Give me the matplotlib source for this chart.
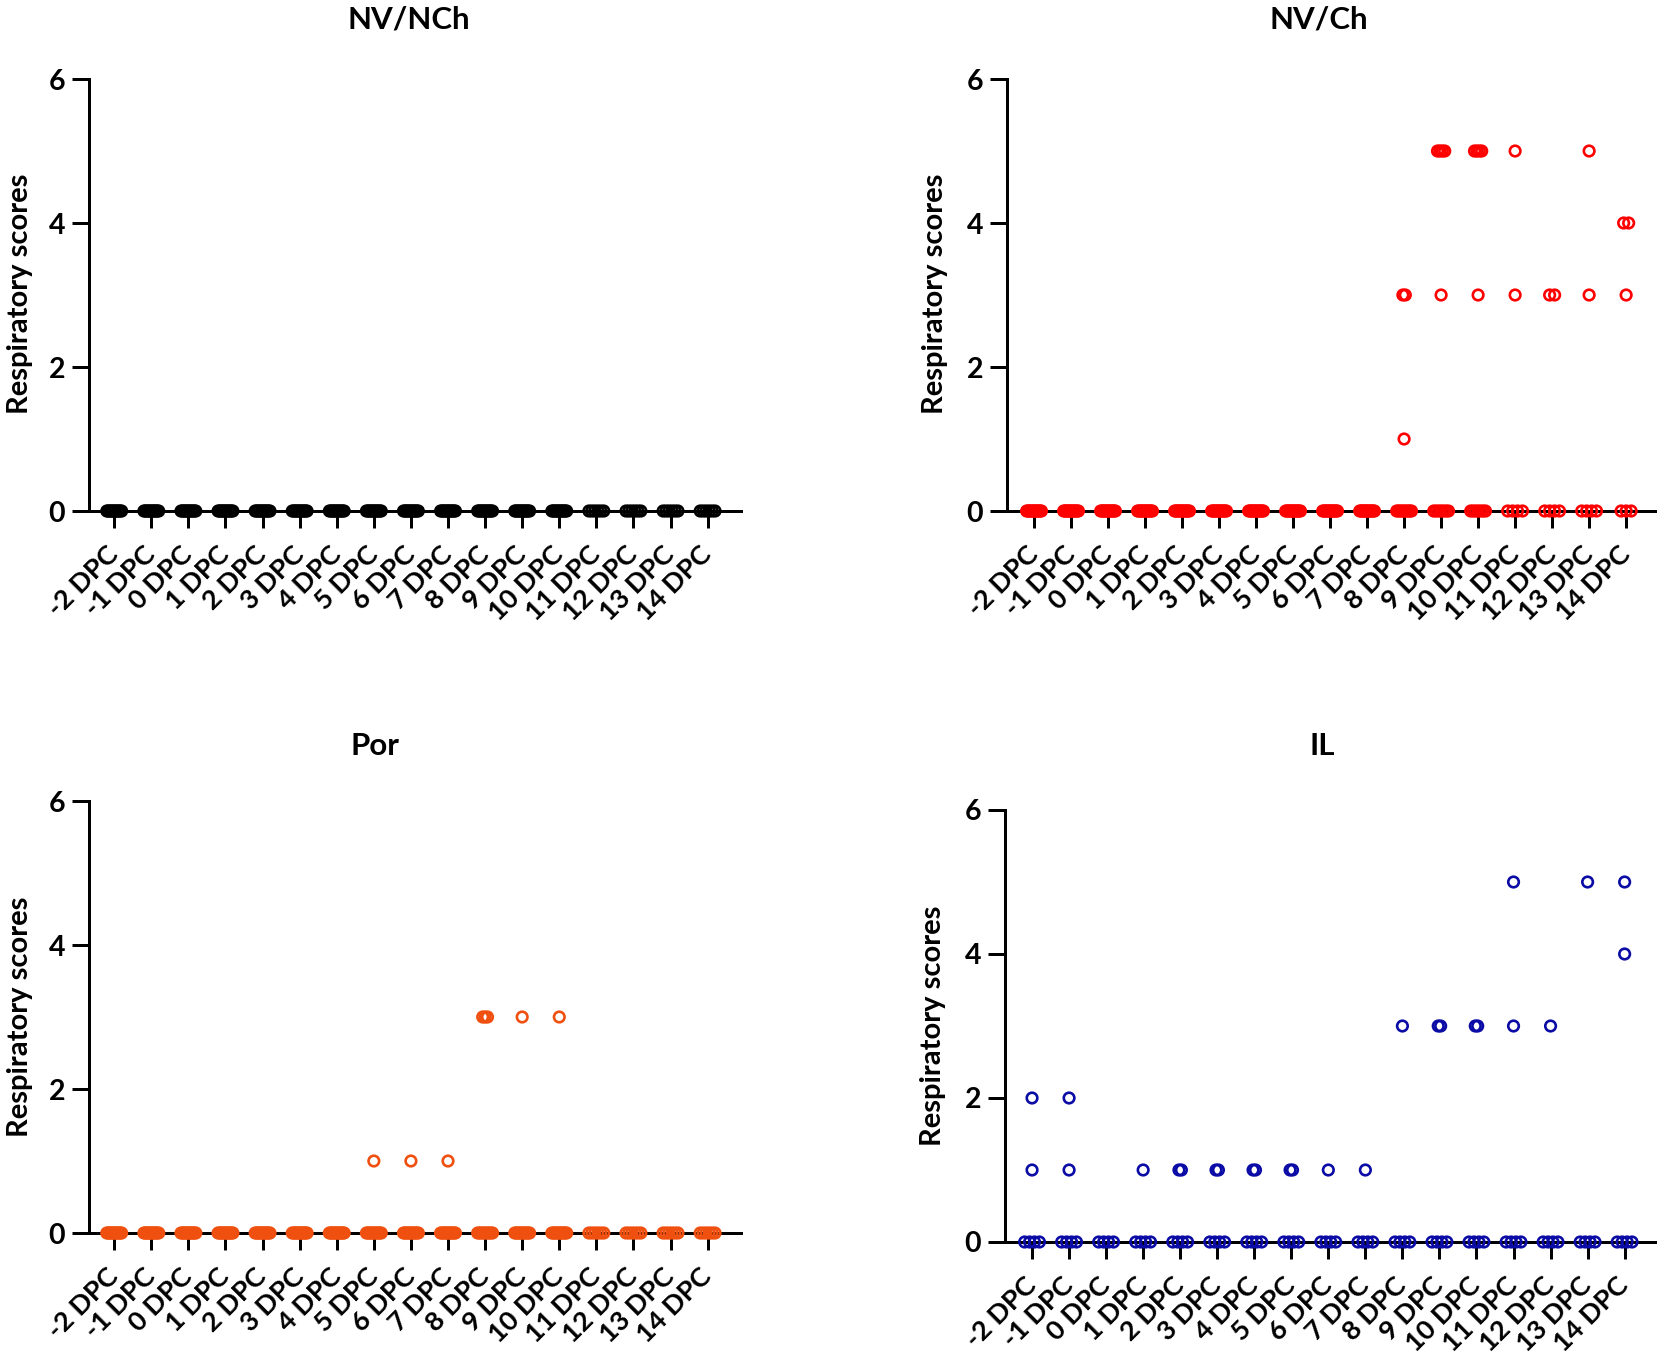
import matplotlib
matplotlib.use("Agg")
import matplotlib.pyplot as plt
import numpy as np

plt.rcParams['font.family'] = ['Lato', 'DejaVu Sans']

# ---------------- data ----------------
days = ['-2 DPC', '-1 DPC', '0 DPC', '1 DPC', '2 DPC', '3 DPC', '4 DPC', '5 DPC',
        '6 DPC', '7 DPC', '8 DPC', '9 DPC', '10 DPC', '11 DPC', '12 DPC', '13 DPC', '14 DPC']

titles = ['NV/NCh', 'NV/Ch', 'Por', 'IL']
colors = ['#000000', '#ff0000', '#f0500f', '#0b0ba6']

nv_nch_scores = [
    [0, 0, 0, 0, 0, 0, 0, 0, 0, 0, 0, 0],
    [0, 0, 0, 0, 0, 0, 0, 0, 0, 0, 0, 0],
    [0, 0, 0, 0, 0, 0, 0, 0, 0, 0, 0, 0],
    [0, 0, 0, 0, 0, 0, 0, 0, 0, 0, 0, 0],
    [0, 0, 0, 0, 0, 0, 0, 0, 0, 0, 0, 0],
    [0, 0, 0, 0, 0, 0, 0, 0, 0, 0, 0, 0],
    [0, 0, 0, 0, 0, 0, 0, 0, 0, 0, 0, 0],
    [0, 0, 0, 0, 0, 0, 0, 0, 0, 0, 0, 0],
    [0, 0, 0, 0, 0, 0, 0, 0, 0, 0, 0, 0],
    [0, 0, 0, 0, 0, 0, 0, 0, 0, 0, 0, 0],
    [0, 0, 0, 0, 0, 0, 0, 0, 0, 0, 0, 0],
    [0, 0, 0, 0, 0, 0, 0, 0, 0, 0, 0, 0],
    [0, 0, 0, 0, 0, 0, 0, 0, 0, 0, 0, 0],
    [0, 0, 0, 0, 0, 0],
    [0, 0, 0, 0, 0, 0],
    [0, 0, 0, 0, 0, 0],
    [0, 0, 0, 0, 0, 0],
]

nv_ch_scores = [
    [0, 0, 0, 0, 0, 0, 0, 0, 0, 0, 0, 0],
    [0, 0, 0, 0, 0, 0, 0, 0, 0, 0, 0, 0],
    [0, 0, 0, 0, 0, 0, 0, 0, 0, 0, 0, 0],
    [0, 0, 0, 0, 0, 0, 0, 0, 0, 0, 0, 0],
    [0, 0, 0, 0, 0, 0, 0, 0, 0, 0, 0, 0],
    [0, 0, 0, 0, 0, 0, 0, 0, 0, 0, 0, 0],
    [0, 0, 0, 0, 0, 0, 0, 0, 0, 0, 0, 0],
    [0, 0, 0, 0, 0, 0, 0, 0, 0, 0, 0, 0],
    [0, 0, 0, 0, 0, 0, 0, 0, 0, 0, 0, 0],
    [0, 0, 0, 0, 0, 0, 0, 0, 0, 0, 0, 0],
    [3, 3, 1, 0, 0, 0, 0, 0, 0, 0, 0, 0],
    [5, 5, 5, 5, 3, 0, 0, 0, 0, 0, 0, 0],
    [5, 5, 5, 5, 3, 0, 0, 0, 0, 0, 0, 0],
    [5, 3, 0, 0, 0, 0],
    [3, 3, 0, 0, 0, 0],
    [5, 3, 0, 0, 0, 0],
    [4, 4, 3, 0, 0, 0],
]

por_scores = [
    [0, 0, 0, 0, 0, 0, 0, 0, 0, 0, 0, 0],
    [0, 0, 0, 0, 0, 0, 0, 0, 0, 0, 0, 0],
    [0, 0, 0, 0, 0, 0, 0, 0, 0, 0, 0, 0],
    [0, 0, 0, 0, 0, 0, 0, 0, 0, 0, 0, 0],
    [0, 0, 0, 0, 0, 0, 0, 0, 0, 0, 0, 0],
    [0, 0, 0, 0, 0, 0, 0, 0, 0, 0, 0, 0],
    [0, 0, 0, 0, 0, 0, 0, 0, 0, 0, 0, 0],
    [1, 0, 0, 0, 0, 0, 0, 0, 0, 0, 0, 0],
    [1, 0, 0, 0, 0, 0, 0, 0, 0, 0, 0, 0],
    [1, 0, 0, 0, 0, 0, 0, 0, 0, 0, 0, 0],
    [3, 3, 3, 0, 0, 0, 0, 0, 0, 0, 0, 0],
    [3, 0, 0, 0, 0, 0, 0, 0, 0, 0, 0, 0],
    [3, 0, 0, 0, 0, 0, 0, 0, 0, 0, 0, 0],
    [0, 0, 0, 0, 0, 0],
    [0, 0, 0, 0, 0, 0],
    [0, 0, 0, 0, 0, 0],
    [0, 0, 0, 0, 0, 0],
]

il_scores = [
    [2, 1, 0, 0, 0, 0],
    [2, 1, 0, 0, 0, 0],
    [0, 0, 0, 0],
    [1, 0, 0, 0, 0],
    [1, 1, 0, 0, 0, 0],
    [1, 1, 0, 0, 0, 0],
    [1, 1, 0, 0, 0, 0],
    [1, 1, 0, 0, 0, 0],
    [1, 0, 0, 0, 0],
    [1, 0, 0, 0, 0],
    [3, 0, 0, 0, 0],
    [3, 3, 0, 0, 0, 0],
    [3, 3, 0, 0, 0, 0],
    [5, 3, 0, 0, 0, 0],
    [3, 0, 0, 0, 0],
    [5, 0, 0, 0, 0],
    [5, 4, 0, 0, 0, 0],
]

panels = [nv_nch_scores, nv_ch_scores, por_scores, il_scores]

# ---------------- layout (pixels) ----------------
W, H = 1665, 1361
fig = plt.figure(figsize=(W / 100, H / 100), dpi=100)
fig.patch.set_facecolor('white')

# (x_left, x_right, y_zero, y_six)
boxes = [(89, 741, 511, 79), (1007, 1655, 511, 79),
         (89, 741, 1233, 801), (1005, 1655, 1242, 810)]
xlims = [(-0.68, 16.9), (-0.73, 16.78), (-0.68, 16.9), (-0.73, 16.82)]
title_pos = [(409, 20), (1319, 20), (375, 746), (1322, 746)]
ylabel_pos = [(20, 294), (935, 294), (20, 1017), (933, 1026)]

# clusters of equal non-zero scores drawn with a wider spacing (panel, day index)
wide_clusters = {(1, 14), (1, 16)}

PX = 72 / 100  # points per pixel
FS = 19.5

for k, (scores, box) in enumerate(zip(panels, boxes)):
    x0, x1, yz, y6 = box
    ax = fig.add_axes([x0 / W, 1 - yz / H, (x1 - x0) / W, (yz - y6) / H])
    ax.set_xlim(*xlims[k])
    ax.set_ylim(0, 6)
    for s in ['top', 'right']:
        ax.spines[s].set_visible(False)
    for s in ['left', 'bottom']:
        ax.spines[s].set_linewidth(3 * PX)
    ax.set_yticks([0, 2, 4, 6])
    ax.set_xticks(np.arange(len(days)))
    ax.set_xticklabels(days, rotation=45, ha='right', va='center',
                       rotation_mode='anchor', fontsize=FS, fontweight='bold')
    ax.set_yticklabels(['0', '2', '4', '6'], fontsize=20.5, fontweight='bold')
    ax.tick_params(axis='both', direction='out', length=17 * PX, width=3 * PX)
    ax.tick_params(axis='x', pad=16)
    ax.tick_params(axis='y', pad=5)

    for i, vals in enumerate(scores):
        for v in sorted(set(vals)):
            cnt = vals.count(v)
            if cnt == 1:
                step = 0.0
            elif v == 0 or (k, i) in wide_clusters:
                step = min(0.135, 0.40 / (cnt - 1))
            else:
                step = 0.065
            offs = (np.arange(cnt) - (cnt - 1) / 2) * step
            ax.scatter(i + offs, [v] * cnt, s=7.6 ** 2, facecolors='none',
                       edgecolors=colors[k], linewidths=1.9, clip_on=False, zorder=3)

    tx, ty = title_pos[k]
    fig.text(tx / W, 1 - ty / H, titles[k], ha='center', va='center',
             fontsize=22.5, fontweight='bold')
    lx, ly = ylabel_pos[k]
    fig.text(lx / W, 1 - ly / H, 'Respiratory scores', ha='center', va='center',
             rotation=90, fontsize=21, fontweight='bold')

fig.savefig('out.png', dpi=100, facecolor='white')
